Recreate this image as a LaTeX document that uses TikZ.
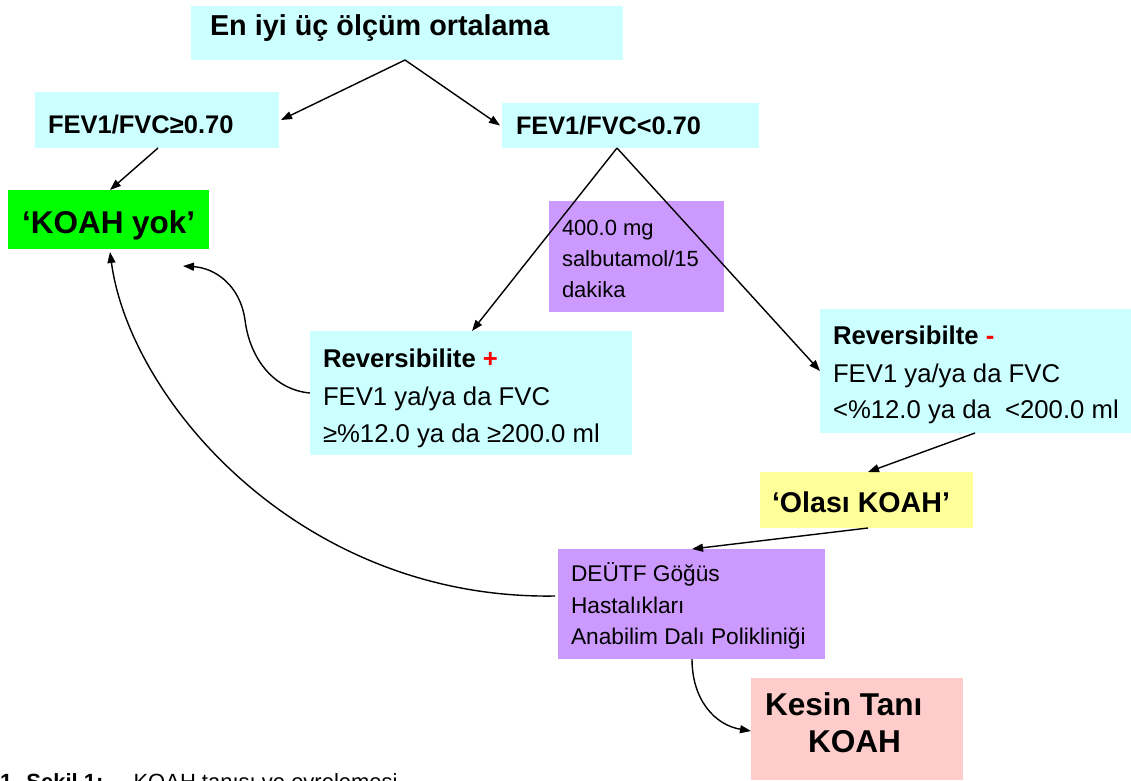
\documentclass[tikz,border=0pt]{standalone}
\usepackage{fontspec}
\setmainfont{Liberation Sans}
\usetikzlibrary{arrows.meta,calc}
\definecolor{cyanbox}{HTML}{CCFFFF}
\definecolor{purplebox}{HTML}{CC99FF}
\definecolor{greenbox}{HTML}{00FF00}
\definecolor{yellowbox}{HTML}{FFFF99}
\definecolor{pinkbox}{HTML}{FFCCCC}
\definecolor{minusred}{HTML}{FF0000}
\newcommand{\fsz}[1]{\fontsize{#1}{#1}\selectfont}
\begin{document}
\begin{tikzpicture}[x=1pt,y=-1pt,
  box/.style={rectangle,inner sep=0pt,outer sep=0pt,anchor=north west,draw=none},
  txt/.style={inner sep=0pt,outer sep=0pt,anchor=base west},
  arr/.style={line width=1.4pt,-{Triangle[length=11pt,width=8pt]}}]
\useasboundingbox (0,0) rectangle (1131,780);
\fill[white] (0,0) rectangle (1131,780);

% boxes
\node[box,fill=cyanbox,minimum width=432pt,minimum height=54pt] (top) at (191,6) {};
\node[box,fill=cyanbox,minimum width=244pt,minimum height=56pt] (geq) at (35,92) {};
\node[box,fill=cyanbox,minimum width=257pt,minimum height=45pt] (lt) at (502,103) {};
\node[box,fill=greenbox,minimum width=201pt,minimum height=59pt] (yok) at (8,190) {};
\node[box,fill=purplebox,minimum width=175pt,minimum height=111pt] (salb) at (549,201) {};
\node[box,fill=cyanbox,minimum width=322pt,minimum height=124pt] (revp) at (310,331) {};
\node[box,fill=cyanbox,minimum width=311pt,minimum height=124pt] (revm) at (820,309) {};
\node[box,fill=yellowbox,minimum width=213pt,minimum height=56pt] (olasi) at (760,472) {};
\node[box,fill=purplebox,minimum width=267pt,minimum height=110pt] (deu) at (558,549) {};
\node[box,fill=pinkbox,minimum width=212pt,minimum height=102pt] (kesin) at (751,678) {};

% texts
\node[txt] (topT) at (210,35) {\fsz{28.8}\bfseries En iyi üç ölçüm ortalama};
\node[txt] (geqT) at (48,133) {\fsz{25.5}\bfseries FEV1/FVC≥0.70};
\node[txt] (ltT) at (516,134) {\fsz{25.3}\bfseries FEV1/FVC<0.70};
\node[txt] (yokT) at (22,233) {\fsz{31.5}\bfseries ‘KOAH yok’};
\node[txt] (salbA) at (562,235) {\fsz{22}400.0 mg};
\node[txt] (salbB) at (562,266) {\fsz{22}salbutamol/15};
\node[txt] (salbC) at (562,297) {\fsz{22}dakika};
\node[txt] (revpA) at (323,367) {\fsz{25.7}\textbf{Reversibilite \textcolor{minusred}{+}}};
\node[txt] (revpB) at (323,405) {\fsz{25.7}FEV1 ya/ya da FVC};
\node[txt] (revpC) at (323,442) {\fsz{25.7}≥\%12.0 ya da ≥200.0 ml};
\node[txt] (revmA) at (833,344) {\fsz{25.7}\textbf{Reversibilte \textcolor{minusred}{-}}};
\node[txt] (revmB) at (833,382) {\fsz{25.7}FEV1 ya/ya da FVC};
\node[txt] (revmC) at (833,418) {\fsz{25.7}<\%12.0 ya da~ <200.0 ml};
\node[txt] (olasiT) at (772,512) {\fsz{28.6}\bfseries ‘Olası KOAH’};
\node[txt] (deuA) at (571,581) {\fsz{22.7}DEÜTF Göğüs};
\node[txt] (deuB) at (571,613) {\fsz{22.7}Hastalıkları};
\node[txt] (deuC) at (571,644) {\fsz{22.7}Anabilim Dalı Polikliniği};
\node[txt] (kesinA) at (765,715) {\fsz{31.6}\bfseries Kesin Tanı};
\node[txt] (kesinB) at (808,752) {\fsz{31.6}\bfseries KOAH};
\node[txt] (cap) at (0,789) {\fsz{22}\textbf{1. Şekil 1:}\hspace{30pt}KOAH tanısı ve evrelemesi};

% free end
\coordinate (fr) at (183,266);

% connectors
\draw[arr] ($(top.south west)+(214,0)$) -- ([xshift=2pt]geq.east);
\draw[arr] ($(top.south west)+(214,0)$) -- ([xshift=-2pt]lt.west);
\draw[arr] ($(geq.south west)+(123,0)$) -- ($(yok.north west)+(102,0)$);
\draw[arr] ($(lt.south west)+(115,0)$) -- ($(revp.north west)+(162,0)$);
\draw[arr] ($(lt.south west)+(115,0)$) -- (revm.west);
\draw[arr] ($(revm.south west)+(155,0)$) -- ($(olasi.north west)+(108,0)$);
\draw[arr] ($(olasi.south west)+(108,0)$) -- ($(deu.north west)+(134,0)$);
\draw[arr] ($(deu.south west)+(134,0)$) .. controls +(0,41) and (715,725) .. ($(kesin.north west)+(0,53)$);
\draw[arr] ($(revp.north west)+(0,62)$) .. controls (275,390) and (250,360) .. (245,320)
  .. controls (240,285) and (215,268) .. (fr);
\draw[arr] ($(deu.north west)+(-3,47)$) .. controls (300,600) and (130,400) .. ($(yok.south west)+(102,3)$);
\end{tikzpicture}
\end{document}
